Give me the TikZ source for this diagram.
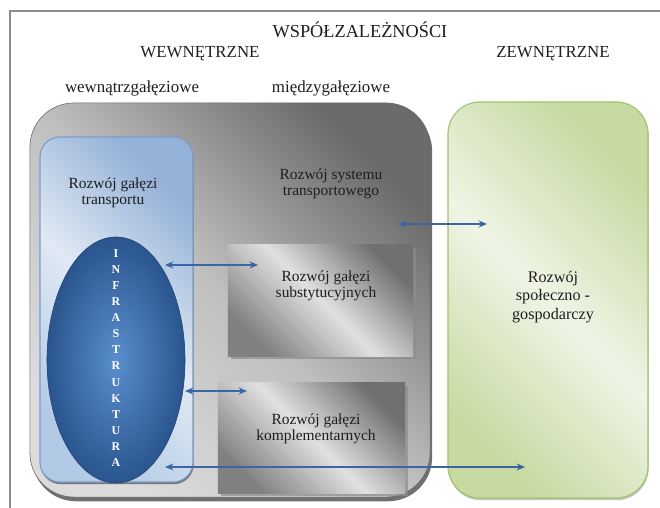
\documentclass[tikz,border=0pt]{standalone}
\usepackage{fontspec}
\setmainfont{Liberation Serif}
\usepackage{xcolor}
\usepackage{tikz}
\usetikzlibrary{shapes.geometric, shadows, arrows.meta}

\definecolor{frameGray}{HTML}{8C8C8C}
\definecolor{arrowBlue}{HTML}{3A66A6}
\definecolor{blueEdge}{HTML}{7B9CCB}
\definecolor{blueDark}{HTML}{94B1D7}
\definecolor{blueLight}{HTML}{E0E9F4}
\definecolor{blueMid}{HTML}{B3CAE6}
\definecolor{infraIn}{HTML}{5A8ECE}
\definecolor{infraOut}{HTML}{2A558E}
\definecolor{greenEdge}{HTML}{A3C46B}
\definecolor{greenDark}{HTML}{C6DAA1}
\definecolor{greenLight}{HTML}{EFF4E5}
\definecolor{textDark}{HTML}{1E1E1E}

\begin{document}
\begin{tikzpicture}[x=0.025cm, y=-0.025cm]
    \tikzstyle{heading} = [anchor=base, text=textDark, font=\fontsize{12}{14}\selectfont]
    \tikzstyle{boxtext} = [align=center, text=textDark, font=\fontsize{11}{11.5}\selectfont]
    \tikzstyle{bigbox} = [rectangle, rounded corners=1.1cm, minimum width=10cm, minimum height=9.85cm, draw=black!60, top color=black!58, bottom color=black!14, middle color=black!25, shading angle=-45, drop shadow={shadow xshift=1.5pt, shadow yshift=-3pt, fill=black!70, opacity=0.8}]
    \tikzstyle{branch} = [rectangle, rounded corners=0.5cm, minimum width=3.825cm, minimum height=8.625cm, draw=blueEdge, thick, top color=blueDark, bottom color=blueMid, middle color=blueLight, shading angle=-45, drop shadow={shadow xshift=0.5pt, shadow yshift=-1.5pt, fill=black!70, opacity=0.7}]
    \tikzstyle{infra} = [ellipse, minimum width=3.45cm, minimum height=6.15cm, inner sep=0pt, draw=infraOut!80!black, inner color=infraIn, outer color=infraOut]
    \tikzstyle{cell} = [rectangle, minimum width=4.65cm, minimum height=2.76cm, top color=black!56, bottom color=black!50, middle color=black!12, shading angle=-45, drop shadow={shadow xshift=2pt, shadow yshift=-2pt, fill=black!45, opacity=0.7}]
    \tikzstyle{outer} = [rectangle, rounded corners=0.8cm, minimum width=5cm, minimum height=9.9cm, draw=greenEdge, thick, top color=greenDark, bottom color=greenDark, middle color=greenLight, shading angle=-45, drop shadow={shadow xshift=0.5pt, shadow yshift=-1.5pt, fill=black!40, opacity=0.6}]
    \tikzstyle{link} = [<->, >={Stealth[length=6pt, width=5pt]}, line width=0.9pt, draw=arrowBlue]

    \useasboundingbox (0,0) rectangle (660,508);
    \draw[frameGray, line width=1pt] (10,508) -- (10,11) -- (660,11);

    % headings
    \node (title) [heading, font=\fontsize{13}{15}\selectfont] at (360,37) {WSPÓŁZALEŻNOŚCI};
    \node (inner) [heading] at (200,57) {WEWNĘTRZNE};
    \node (extern) [heading] at (553,57) {ZEWNĘTRZNE};
    \node (intra) [heading] at (132,92) {wewnątrzgałęziowe};
    \node (inter) [heading] at (331,92) {międzygałęziowe};

    % boxes
    \node (system) [bigbox] at (230,300) {};
    \node (branchbox) [branch] at (116.5,309.5) {};
    \node (infrabox) [infra] at (116,360) {};
    \node (subst) [cell, minimum width=4.625cm, minimum height=2.775cm] at (320.5,300.5) {};
    \node (compl) [cell, minimum width=4.675cm, minimum height=2.75cm] at (311.5,438) {};
    \node (socio) [outer] at (548,300) {};

    % texts
    \node (branchtxt) [boxtext] at (113,193) {Rozwój gałęzi\\transportu};
    \node (systemtxt) [boxtext] at (331,184) {Rozwój systemu\\transportowego};
    \node (substtxt) [boxtext] at (326,286) {Rozwój gałęzi\\substytucyjnych};
    \node (compltxt) [boxtext] at (316,429) {Rozwój gałęzi\\komplementarnych};
    \node (sociotxt) [boxtext, font=\fontsize{11.5}{13}\selectfont] at (553,297) {Rozwój\\społeczno -\\gospodarczy};
    \node (infratxt) [align=center, text=white, inner sep=0pt, font=\fontsize{8.5}{11.45}\selectfont\bfseries] at (116,358) {I\\N\\F\\R\\A\\S\\T\\R\\U\\K\\T\\U\\R\\A};

    % connector ends
    \coordinate (sysEnd) at (398,224);
    \coordinate (socioTop) at (487,224);
    \coordinate (infraTop) at (165,265);
    \coordinate (substEnd) at (258,265);
    \coordinate (infraMid) at (185,391);
    \coordinate (complEnd) at (247,391);
    \coordinate (branchLow) at (165,467);
    \coordinate (socioLow) at (525,467);

    \draw[link] (sysEnd) -- (socioTop);
    \draw[link] (infraTop) -- (substEnd);
    \draw[link] (infraMid) -- (complEnd);
    \draw[link] (branchLow) -- (socioLow);
\end{tikzpicture}
\end{document}
